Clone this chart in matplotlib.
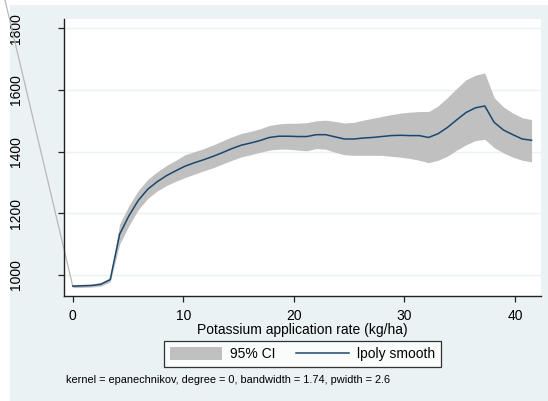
import matplotlib
matplotlib.use("Agg")
import matplotlib.pyplot as plt
from matplotlib.patches import Rectangle, Patch
from matplotlib.lines import Line2D

plt.rcParams['font.family'] = ['Liberation Sans', 'DejaVu Sans']

# local polynomial smooth of yield on potassium rate, with 95% band
k_rate = [0.00, 0.85, 1.69, 2.54, 3.39, 4.24, 5.08, 5.93, 6.78, 7.62,
          8.47, 9.32, 10.16, 11.01, 11.86, 12.71, 13.55, 14.40, 15.25, 16.09,
          16.94, 17.79, 18.63, 19.48, 20.33, 21.17, 22.02, 22.87, 23.71, 24.56,
          25.41, 26.25, 27.10, 27.95, 28.79, 29.64, 30.49, 31.33, 32.18, 33.03,
          33.87, 34.72, 35.57, 36.41, 37.26, 38.11, 38.95, 39.80, 40.65, 41.49]
smooth = [964, 965, 966, 970, 985, 1132, 1192, 1242, 1278, 1302,
          1322, 1338, 1353, 1364, 1374, 1385, 1397, 1410, 1421, 1428,
          1436, 1446, 1450, 1450, 1449, 1449, 1455, 1455, 1448, 1441,
          1441, 1444, 1446, 1449, 1452, 1453, 1452, 1452, 1446, 1458,
          1478, 1503, 1527, 1542, 1548, 1495, 1470, 1455, 1441, 1437]
ci_low = [959, 960, 961, 964, 978, 1100, 1160, 1212, 1248, 1272,
          1290, 1304, 1316, 1327, 1338, 1348, 1360, 1372, 1383, 1390,
          1398, 1405, 1408, 1408, 1405, 1403, 1410, 1408, 1398, 1390,
          1388, 1388, 1388, 1388, 1385, 1382, 1378, 1372, 1364, 1372,
          1385, 1405, 1422, 1436, 1440, 1413, 1396, 1382, 1372, 1367]
ci_high = [969, 970, 971, 976, 992, 1165, 1225, 1274, 1310, 1334,
           1355, 1372, 1390, 1400, 1410, 1422, 1435, 1448, 1459, 1466,
           1474, 1485, 1490, 1492, 1492, 1494, 1500, 1502, 1498, 1493,
           1495, 1502, 1508, 1514, 1520, 1525, 1528, 1530, 1530, 1548,
           1575, 1605, 1633, 1648, 1655, 1575, 1545, 1525, 1510, 1504]

# stray segment running off the top-left of the graph
stray_x = [-6.5, 0.0]
stray_y = [1948, 964]

x_ticks = [0, 10, 20, 30, 40]
y_ticks = [1000, 1200, 1400, 1600, 1800]

bg = '#EAF2F3'
navy = '#1A476F'
band = '#C0C0C0'

fig = plt.figure(figsize=(5.48, 4.01), dpi=100)
fig.patch.set_facecolor('white')
fig.patches.append(Rectangle((10 / 548, 0), 1, 1 - 5 / 401, transform=fig.transFigure,
                             facecolor=bg, edgecolor='none', zorder=-10))

ax = fig.add_axes([64 / 548, 1 - 296 / 401, 476.5 / 548, 277 / 401])
ax.set_facecolor('white')

ax.fill_between(k_rate, ci_low, ci_high, color=band, linewidth=0, zorder=2)
ax.plot(k_rate, smooth, color=navy, linewidth=1.1, zorder=3)
ax.plot(stray_x, stray_y, color='#B8B8B8', linewidth=0.9, clip_on=False, zorder=1)

ax.set_xlim(-0.79, 42.3)
ax.set_ylim(932, 1830)
ax.set_xticks(x_ticks)
ax.set_yticks(y_ticks)
ax.yaxis.grid(True, color=bg, linewidth=1.0)
ax.set_axisbelow(True)

for s in ['top', 'right']:
    ax.spines[s].set_visible(False)
for s in ['left', 'bottom']:
    ax.spines[s].set_color('#222222')
    ax.spines[s].set_linewidth(1.0)

ax.tick_params(axis='both', direction='out', length=4.3, width=0.9, color='#222222',
               labelsize=10, labelcolor='black')
ax.tick_params(axis='y', pad=25)
ax.tick_params(axis='x', pad=5)
for lab in ax.get_yticklabels():
    lab.set_rotation(90)
    lab.set_va('center')

ax.set_xlabel('Potassium application rate (kg/ha)', fontsize=10, labelpad=0)

handles = [Patch(facecolor=band, edgecolor='none'),
           Line2D([], [], color=navy, linewidth=1.1)]
leg = fig.legend(handles, ['95% CI', 'lpoly smooth'], ncol=2, loc='center',
                 bbox_to_anchor=(302.3 / 548, 1 - 354 / 401), fontsize=10,
                 frameon=True, fancybox=False, handlelength=3.8, handleheight=1.08,
                 handletextpad=0.55, columnspacing=1.5, borderpad=0.4)
leg.get_frame().set_edgecolor('black')
leg.get_frame().set_linewidth(0.9)
leg.get_frame().set_facecolor('white')

fig.text(66 / 548, 1 - 380 / 401,
         'kernel = epanechnikov, degree = 0, bandwidth = 1.74, pwidth = 2.6',
         fontsize=7.9, ha='left', va='center')

fig.savefig('out.png', dpi=100)
